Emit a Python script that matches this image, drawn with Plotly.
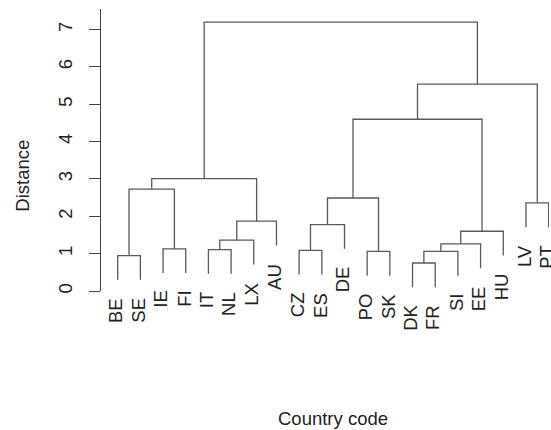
import plotly.graph_objects as go

# Leaf labels in dendrogram order
leaves = ["BE", "SE", "IE", "FI", "IT", "NL", "LX", "AU", "CZ", "ES",
          "DE", "PO", "SK", "DK", "FR", "SI", "EE", "HU", "LV", "PT"]

# Merge steps (R hclust convention): label = leaf, integer = earlier merge (1-based)
merge_left = ["BE", "IE", "IT", 3, 4, 1, 6, "CZ", 8, "PO", 9, "DK", 12, 13, 14, 11, "LV", 16, 7]
merge_right = ["SE", "FI", "NL", "LX", "AU", 2, 5, "ES", "DE", "SK", 10, "FR", "SI", "EE", "HU", 15, "PT", 17, 18]
merge_height = [0.95, 1.13, 1.11, 1.36, 1.87, 2.73, 3.01, 1.09, 1.78, 1.06, 2.49,
                0.75, 1.06, 1.26, 1.60, 4.60, 2.36, 5.54, 7.20]

y_ticks = [0, 1, 2, 3, 4, 5, 6, 7]
hang = 0.65

pos = {lab: i + 1 for i, lab in enumerate(leaves)}
xs, ys = [], []
leaf_bottom = {}
centers = []

def node_info(n, h):
    if isinstance(n, str):
        bottom = h - hang
        leaf_bottom[n] = bottom
        return pos[n], bottom
    return centers[n - 1], merge_height[n - 1]

for a, b, h in zip(merge_left, merge_right, merge_height):
    xa, ya = node_info(a, h)
    xb, yb = node_info(b, h)
    xs += [xa, xa, xb, xb, None]
    ys += [ya, h, h, yb, None]
    centers.append((xa + xb) / 2)

LINE = "#5a5a5a"
FONT = "Liberation Sans, Arial, sans-serif"
FS = 18.5

fig = go.Figure()
fig.add_trace(go.Scatter(x=xs, y=ys, mode="lines",
                         line=dict(color=LINE, width=1.3),
                         hoverinfo="skip", showlegend=False))

k = 22.68
xmin = 1 - 9.7 / k
xmax = xmin + 441 / k

annotations = []
for lab in leaves:
    annotations.append(dict(x=pos[lab], y=leaf_bottom[lab], xref="x", yref="y",
                            text=lab, showarrow=False, textangle=-90,
                            xanchor="center", yanchor="top", yshift=-16, xshift=-2,
                            font=dict(family=FONT, size=FS, color="#222")))
annotations.append(dict(x=(333 - 100) / 449, y=(291 - 418) / 282, xref="paper", yref="paper",
                        text="Country code", showarrow=False, xanchor="center", yanchor="middle",
                        font=dict(family=FONT, size=FS, color="#222")))
annotations.append(dict(x=(21.7 - 100) / 449, y=(291 - 176) / 282, xref="paper", yref="paper",
                        text="Distance", showarrow=False, textangle=-90,
                        xanchor="center", yanchor="middle",
                        font=dict(family=FONT, size=FS, color="#222")))

fig.update_layout(
    width=551, height=430,
    margin=dict(l=100, r=2, t=9, b=139),
    paper_bgcolor="white", plot_bgcolor="white",
    xaxis=dict(domain=[8 / 449, 1], range=[xmin, xmax], visible=False),
    yaxis=dict(anchor="free", position=0, range=[0, 282 / 37.34],
               showline=True, linecolor="#444", linewidth=1,
               ticks="outside", ticklen=11, tickcolor="#444", tickwidth=1,
               tickvals=y_ticks, tickangle=-90, ticklabelstandoff=10,
               tickfont=dict(family=FONT, size=FS, color="#222"),
               showgrid=False, zeroline=False, automargin=False),
    annotations=annotations,
)

fig.write_html("out.html", config={"displayModeBar": False},
               post_script="document.body.style.margin='0';document.body.style.padding='0';")
